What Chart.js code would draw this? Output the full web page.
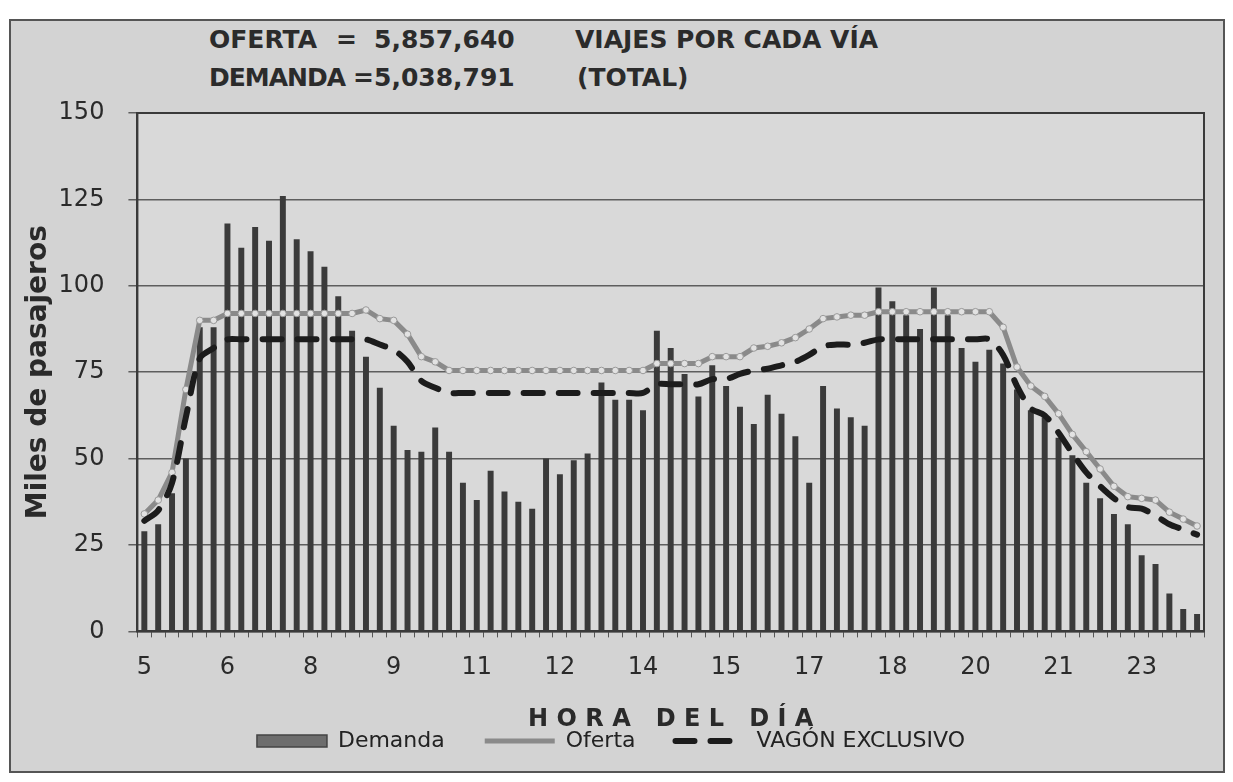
<!DOCTYPE html>
<html>
<head>
<meta charset="utf-8">
<script src="https://cdn.jsdelivr.net/npm/chart.js@4.4.1/dist/chart.umd.min.js"></script>
<style>
  html, body { margin: 0; padding: 0; background: #fff; }
  body { width: 1233px; height: 782px; position: relative; overflow: hidden; font-family: "DejaVu Sans", sans-serif; }
  #marco { position: absolute; left: 9px; top: 19px; width: 1212px; height: 750px; background: #d3d3d3; border: 2px solid #555; }
  .t { position: absolute; font-weight: bold; font-size: 25px; line-height: 30px; color: #2b2b2b; white-space: pre; }
  #wrap { position: absolute; left: 0; top: 0; width: 1233px; height: 782px; }
</style>
</head>
<body>
<div id="marco"></div>
<div class="t" style="left:209px;top:25px">OFERTA</div>
<div class="t" style="left:336px;top:25px">=</div>
<div class="t" style="left:374px;top:25px">5,857,640</div>
<div class="t" style="left:575px;top:25px">VIAJES POR CADA VÍA</div>
<div class="t" style="left:209px;top:63px;letter-spacing:-1px">DEMANDA</div>
<div class="t" style="left:353px;top:63px">=</div>
<div class="t" style="left:374px;top:63px">5,038,791</div>
<div class="t" style="left:577px;top:63px">(TOTAL)</div>
<div id="wrap"><canvas id="c"></canvas></div>
<script>
// cuartos de hora, 5:00 a 24:00
const horas = [
  '5:00','5:15','5:30','5:45','6:00','6:15','6:30','6:45','7:00','7:15','7:30','7:45',
  '8:00','8:15','8:30','8:45','9:00','9:15','9:30','9:45','10:00','10:15','10:30','10:45',
  '11:00','11:15','11:30','11:45','12:00','12:15','12:30','12:45','13:00','13:15','13:30','13:45',
  '14:00','14:15','14:30','14:45','15:00','15:15','15:30','15:45','16:00','16:15','16:30','16:45',
  '17:00','17:15','17:30','17:45','18:00','18:15','18:30','18:45','19:00','19:15','19:30','19:45',
  '20:00','20:15','20:30','20:45','21:00','21:15','21:30','21:45','22:00','22:15','22:30','22:45',
  '23:00','23:15','23:30','23:45','24:00'
]
// etiquetas del eje, una cada 6 cuartos
const etiquetas = ['5','6','8','9','11','12','14','15','17','18','20','21','23']

const demanda = [
  29,31,40,50,88,88,118,111,117,113,
  126,113.5,110,105.5,97,87,79.5,70.5,59.5,52.5,
  52,59,52,43,38,46.5,40.5,37.5,35.5,50,
  45.5,49.5,51.5,72,67,67,64,87,82,74.5,
  68,77,71,65,60,68.5,63,56.5,43,71,
  64.5,62,59.5,99.5,95.5,91.5,87.5,99.5,91.5,82,
  78,81.5,77.5,70,64,62,56,51,43,38.5,
  34,31,22,19.5,11,6.5,5
]
const oferta = [
  34,38,46,70,90,90,92,92,92,92,
  92,92,92,92,92,92,93,90.5,90,86,
  79.5,78,75.5,75.5,75.5,75.5,75.5,75.5,75.5,75.5,
  75.5,75.5,75.5,75.5,75.5,75.5,75.5,77.5,77.5,77.5,
  77.5,79.5,79.5,79.5,82,82.5,83.5,85,87.5,90.5,
  91,91.5,91.5,92.5,92.5,92.5,92.5,92.5,92.5,92.5,
  92.5,92.5,88,76.5,71,68,63,57,52,47,
  42,39,38.5,38,34.5,32.5,30.5
]
const vagon = [
  32,35,43,62,79,82,84.5,84.5,84.5,84.5,
  84.5,84.5,84.5,84.5,84.5,84.5,84.5,83,81.5,78,
  72.5,70.5,69,69,69,69,69,69,69,69,
  69,69,69,69,69,69,69,71.5,71.5,71.5,
  71.5,73,73,74.5,75.5,76,77,78,80,82.5,
  83,83,83.5,84.5,84.5,84.5,84.5,84.5,84.5,84.5,
  84.5,84.5,80,71,64.5,62.5,57.5,51.5,46,42,
  38.5,36,35.5,33.5,31,29.5,28
]

Chart.defaults.font.family = '"DejaVu Sans", sans-serif'
Chart.defaults.color = '#2a2a2a'

// fondo y marco del area de trazado
const marcoPlot = {
  id: 'marcoPlot',
  beforeDraw(chart) {
    const { ctx, chartArea: a } = chart
    ctx.save()
    ctx.fillStyle = '#d9d9d9'
    ctx.fillRect(a.left, a.top, a.width, a.height)
    ctx.restore()
  },
  afterDraw(chart) {
    const { ctx, chartArea: a } = chart
    ctx.save()
    ctx.strokeStyle = '#3a3a3a'
    ctx.lineWidth = 2
    ctx.strokeRect(a.left, a.top, a.width, a.height)
    ctx.restore()
  }
}

const dashVagon = [19, 16]

new Chart(document.getElementById('c'), {
  type: 'bar',
  data: {
    labels: horas,
    datasets: [
      { type: 'bar', label: 'Demanda', data: demanda, backgroundColor: '#3b3b3b',
        categoryPercentage: 1, barPercentage: 0.43, order: 3 },
      { type: 'line', label: 'Oferta', data: oferta, borderColor: '#8a8a8a', borderWidth: 5,
        pointRadius: 3.3, pointBackgroundColor: '#e2e2e2', pointBorderColor: '#9a9a9a', pointBorderWidth: 1,
        tension: 0, fill: false, order: 2 },
      { type: 'line', label: 'VAGÓN EXCLUSIVO', data: vagon, borderColor: '#1c1c1c', borderWidth: 6,
        borderDash: dashVagon, borderCapStyle: 'round', pointRadius: 0, tension: 0.3, fill: false, order: 1 }
    ]
  },
  options: {
    responsive: true, maintainAspectRatio: false, animation: false,
    layout: { padding: { left: 18, right: 29, top: 113, bottom: 20 } },
    plugins: {
      tooltip: { enabled: false },
      legend: {
        position: 'bottom',
        labels: {
          usePointStyle: true, pointStyleWidth: 70, boxHeight: 12, padding: 40,
          font: { size: 22 }, color: '#222',
          sort: (a, b) => a.datasetIndex - b.datasetIndex,
          generateLabels(chart) {
            const items = Chart.defaults.plugins.legend.labels.generateLabels(chart)
            items.forEach(it => {
              if (it.datasetIndex === 0) {
                it.pointStyle = 'rect'; it.fillStyle = '#6d6d6d'; it.strokeStyle = '#444'; it.lineWidth = 1.5
              } else if (it.datasetIndex === 1) {
                it.pointStyle = 'line'; it.strokeStyle = '#8a8a8a'; it.lineWidth = 5; it.lineDash = []
              } else {
                it.pointStyle = 'line'; it.strokeStyle = '#1c1c1c'; it.lineWidth = 6
                it.lineDash = dashVagon; it.lineCap = 'round'
              }
            })
            return items
          }
        }
      }
    },
    scales: {
      x: {
        offset: true,
        grid: { display: true, drawOnChartArea: false, drawTicks: true, tickLength: 6, color: '#555', offset: true },
        border: { display: true, color: '#3a3a3a', width: 2 },
        ticks: {
          autoSkip: false, maxRotation: 0, padding: 16, font: { size: 24 },
          callback: (v, i) => i % 6 === 0 ? etiquetas[i / 6] : ''
        },
        title: { display: true, text: 'H O R A   D E L   D Í A', font: { size: 24, weight: 'bold' },
          color: '#2a2a2a', padding: { top: 7, bottom: -44 } }
      },
      y: {
        min: 0, max: 150,
        grid: { color: '#5e5e5e', lineWidth: 1.5, tickLength: 9 },
        border: { display: true, color: '#3a3a3a', width: 2 },
        ticks: { stepSize: 25, padding: 24, font: { size: 24 } },
        title: { display: true, text: 'Miles de pasajeros', font: { size: 28, weight: 'bold' },
          color: '#2a2a2a', padding: { top: 4, bottom: -21 } }
      }
    }
  },
  plugins: [marcoPlot]
})
</script>
</body>
</html>
